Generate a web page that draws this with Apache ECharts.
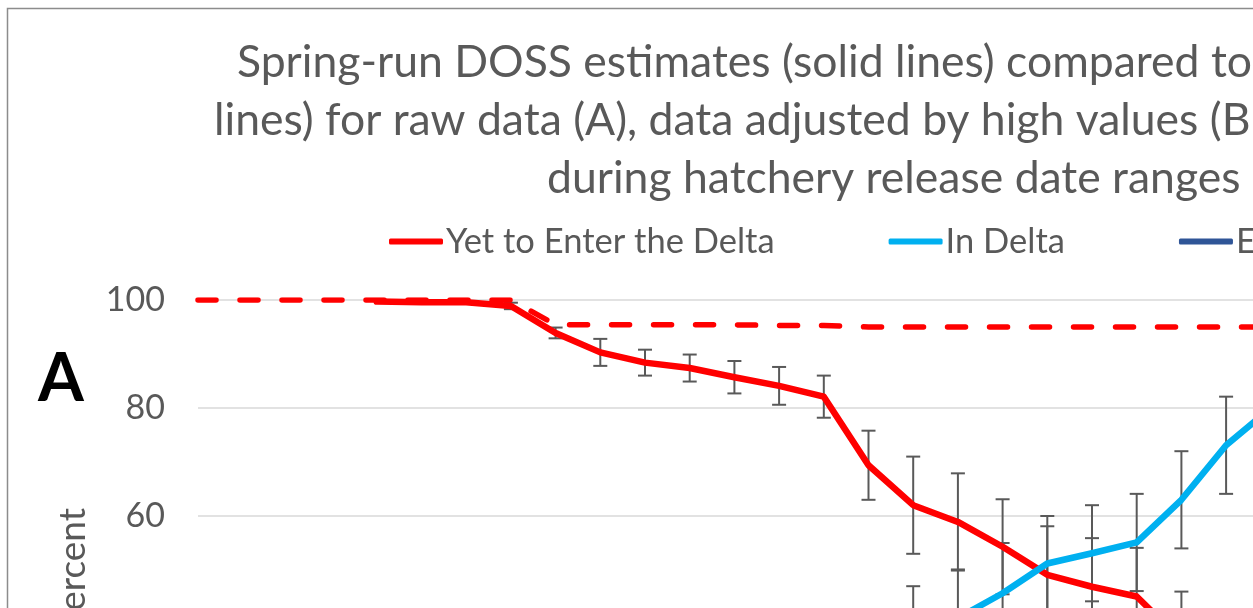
<!DOCTYPE html>
<html>
<head>
<meta charset="utf-8">
<script src="https://cdn.jsdelivr.net/npm/echarts@6/dist/echarts.min.js"></script>
<style>
  html, body { margin: 0; padding: 0; background: #fff; overflow: hidden; }
  /* the reference is a crop of a bigger chart, so the canvas runs past the window */
  #chart { width: 1700px; height: 950px; }
</style>
</head>
<body>
<div id="chart"></div>
<script>
// categories (x ticks are below the visible area)
var categories = ["1", "2", "3", "4", "5", "6", "7", "8", "9", "10", "11", "12", "13",
  "14", "15", "16", "17", "18", "19", "20", "21", "22", "23", "24", "25"];

// DOSS estimates (solid lines)
var yetToEnter = [null, null, null, null, 99.7, 99.6, 99.6, 98.9, 93.9, 90.3, 88.4, 87.4, 85.7,
  84.1, 82.1, 69.4, 62.0, 58.9, 54.3, 49.1, 46.9, 45.1, 37.0, 27.0, 20.0];
var inDelta = [0, 0, 0, 0, 0.3, 0.4, 0.4, 1.1, 6.1, 9.7, 11.6, 12.6, 14.3,
  15.9, 17.9, 30.6, 38.0, 41.1, 45.7, 51.2, 53.1, 55.1, 63.0, 73.1, 80.0];
var exitedDelta = [0, 0, 0, 0, 0, 0, 0, 0, 0, 0, 0, 0, 0,
  0, 0, 0, 0, 0, 0, 0, 0, 0, 0, 0, 0];

// comparison (dashed line)
var yetToEnterDashed = [100, 100, 100, 100, 100, 100, 100, 100, 95.4, 95.4, 95.4, 95.4, 95.4,
  95.3, 95.3, 95.0, 95.0, 95.0, 95.0, 95.0, 95.0, 95.0, 95.0, 95.0, 95.0];

// error bar half widths
var errYet = [null, null, null, null, null, null, null, 0.6, 1.0, 2.5, 2.4, 2.5, 3.0,
  3.5, 3.9, 6.4, 9.0, 9.0, 8.8, 9.0, 9.0, 9.0, 9.0, 9.0, 9.0];
var errIn = [null, null, null, null, null, null, null, 0.6, 1.0, 2.5, 2.4, 2.5, 3.0,
  3.5, 3.9, 6.4, 9.0, 9.0, 9.3, 8.8, 8.9, 9.0, 9.0, 9.0, 9.0];

var yTicks = { min: 0, max: 100, interval: 20 };

var titleLines = [
  "Spring-run DOSS estimates (solid lines) compared to",
  "lines) for raw data (A), data adjusted by high values (B",
  "during hatchery release date ranges"
];

function errData(vals, errs) {
  var out = [];
  vals.forEach(function (v, i) {
    if (v != null && errs[i] != null) out.push([i, v - errs[i], v + errs[i]]);
  });
  return out;
}

function renderErr(params, api) {
  var x = api.value(0);
  var lo = api.coord([x, api.value(1)]);
  var hi = api.coord([x, api.value(2)]);
  var w = 7;
  var st = { stroke: "#595959", lineWidth: 2 };
  return {
    type: "group",
    children: [
      { type: "line", shape: { x1: lo[0], y1: lo[1], x2: hi[0], y2: hi[1] }, style: st },
      { type: "line", shape: { x1: lo[0] - w, y1: lo[1], x2: lo[0] + w, y2: lo[1] }, style: st },
      { type: "line", shape: { x1: hi[0] - w, y1: hi[1], x2: hi[0] + w, y2: hi[1] }, style: st }
    ]
  };
}

var chart = echarts.init(document.getElementById("chart"));
var font = "Lato";
var titleStyle = { fontFamily: font, fontSize: 44.5, fontWeight: "normal", color: "#595959" };
var option = {
  animation: false,
  textStyle: { fontFamily: font },
  title: [
    { text: titleLines[0], left: 232, top: 35, textStyle: titleStyle },
    { text: titleLines[1], left: 209, top: 93, textStyle: titleStyle },
    { text: titleLines[2], left: 542, top: 151, textStyle: titleStyle }
  ],
  legend: {
    data: ["Yet to Enter the Delta", "In Delta", "Exited the Delta"],
    left: 384,
    top: 219,
    icon: "roundRect",
    itemWidth: 54,
    itemHeight: 6,
    itemGap: 114,
    itemStyle: { borderWidth: 0 },
    textStyle: { fontFamily: font, fontSize: 34.5, color: "#595959", padding: [0, 0, 0, -2] }
  },
  graphic: [
    { type: "rect", shape: { x: 7.5, y: 8.5, width: 3000, height: 3000 }, style: { fill: "none", stroke: "#8c8c8c", lineWidth: 1.5 }, silent: true },
    { type: "text", x: 38, y: 380, style: { text: "A", font: "bold 66px Lato", fill: "#000", verticalAlign: "middle" } }
  ],
  grid: { left: 198, top: 300, width: 44.7 * 24, height: 540, outerBoundsMode: "none" },
  xAxis: {
    type: "category",
    data: categories,
    boundaryGap: false,
    axisLine: { lineStyle: { color: "#d9d9d9" } },
    axisTick: { show: false },
    axisLabel: { color: "#595959", fontSize: 28 }
  },
  yAxis: {
    type: "value",
    min: yTicks.min,
    max: yTicks.max,
    interval: yTicks.interval,
    name: "Percent",
    nameLocation: "middle",
    nameRotate: 90,
    nameGap: 106,
    nameTextStyle: { fontFamily: font, fontSize: 37, color: "#595959" },
    axisLine: { show: false },
    axisTick: { show: false },
    axisLabel: { color: "#595959", fontSize: 34, margin: 33 },
    splitLine: { lineStyle: { color: "#d9d9d9", width: 1.5 } }
  },
  series: [
    { type: "custom", name: "errYet", renderItem: renderErr, data: errData(yetToEnter, errYet), z: 1, silent: true },
    { type: "custom", name: "errIn", renderItem: renderErr, data: errData(inDelta, errIn), z: 1, silent: true },
    {
      name: "Yet to Enter the Delta comparison", type: "line", data: yetToEnterDashed, showSymbol: false, z: 3,
      lineStyle: { color: "#ff0000", width: 5.5, type: [18, 24], cap: "round" }, itemStyle: { color: "#ff0000" }
    },
    {
      name: "Yet to Enter the Delta", type: "line", data: yetToEnter, showSymbol: false, z: 4,
      lineStyle: { color: "#ff0000", width: 6.5, cap: "round", join: "round" }, itemStyle: { color: "#ff0000" }
    },
    {
      name: "In Delta", type: "line", data: inDelta, showSymbol: false, z: 4,
      lineStyle: { color: "#00b0f0", width: 6.5, cap: "round", join: "round" }, itemStyle: { color: "#00b0f0" }
    },
    {
      name: "Exited the Delta", type: "line", data: exitedDelta, showSymbol: false, z: 4,
      lineStyle: { color: "#2f5597", width: 6.5, cap: "round", join: "round" }, itemStyle: { color: "#2f5597" }
    }
  ]
};
chart.setOption(option);
</script>
</body>
</html>
